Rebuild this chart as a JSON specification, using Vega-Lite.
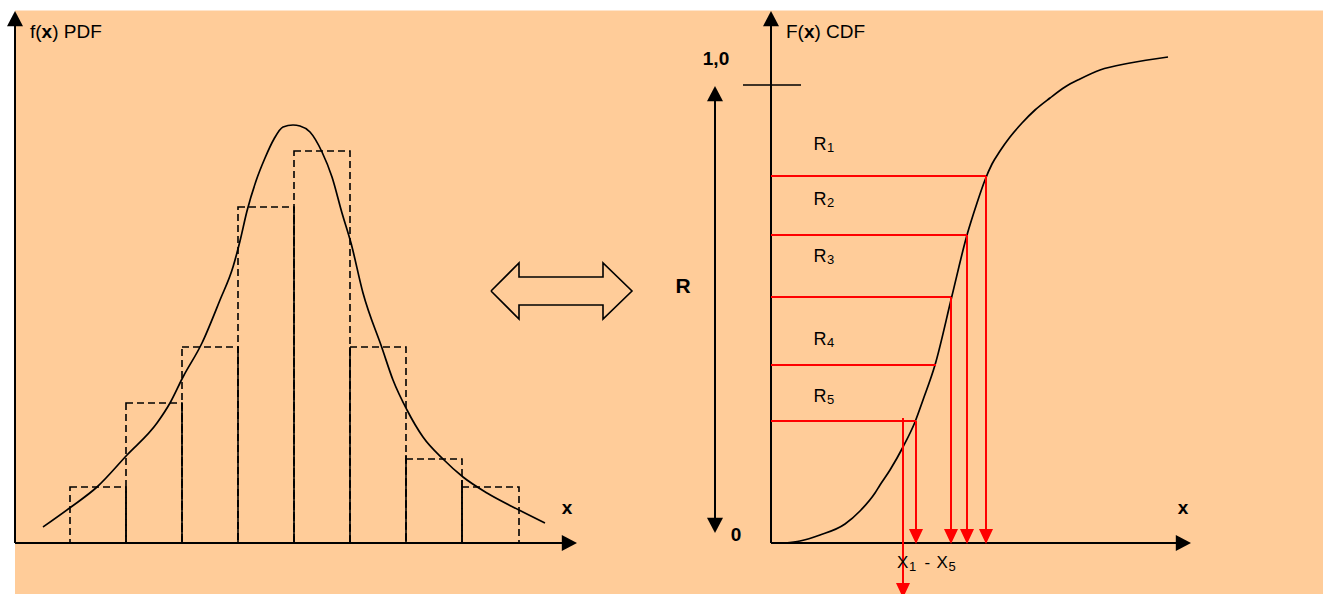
{
  "$schema": "https://vega.github.io/schema/vega-lite/v6.json",
  "width": 1323,
  "height": 594,
  "autosize": {"type": "none"},
  "padding": 0,
  "background": "white",
  "config": {"view": {"stroke": null}, "font": "Liberation Sans"},
  "datasets": {
    "bg": [{"x": 15, "x2": 1323, "y": 10.5, "y2": 594}],
    "bins": [
      {"x0": 70, "x1": 126, "top": 487, "base": 543},
      {"x0": 126, "x1": 182, "top": 403, "base": 543},
      {"x0": 182, "x1": 238, "top": 347, "base": 543},
      {"x0": 238, "x1": 294, "top": 207, "base": 543},
      {"x0": 294, "x1": 350, "top": 151, "base": 543},
      {"x0": 350, "x1": 406, "top": 347, "base": 543},
      {"x0": 406, "x1": 462, "top": 459, "base": 543},
      {"x0": 462, "x1": 519, "top": 487, "base": 543}
    ],
    "shared": [
      {"x": 126, "y": 487, "y2": 543},
      {"x": 182, "y": 403, "y2": 543},
      {"x": 238, "y": 347, "y2": 543},
      {"x": 294, "y": 207, "y2": 543},
      {"x": 350, "y": 347, "y2": 543},
      {"x": 406, "y": 455, "y2": 543},
      {"x": 462, "y": 480, "y2": 543}
    ],
    "pdf": [
      {"x": 43, "y": 527}, {"x": 71, "y": 507}, {"x": 97, "y": 487}, {"x": 127, "y": 455},
      {"x": 157, "y": 423}, {"x": 170, "y": 403}, {"x": 183, "y": 377}, {"x": 202, "y": 343},
      {"x": 220, "y": 300}, {"x": 233, "y": 267}, {"x": 240, "y": 241}, {"x": 247, "y": 211},
      {"x": 256, "y": 181}, {"x": 265, "y": 158}, {"x": 274, "y": 139}, {"x": 283, "y": 127}, {"x": 293, "y": 125},
      {"x": 300, "y": 126}, {"x": 310, "y": 132}, {"x": 322, "y": 152}, {"x": 332, "y": 177},
      {"x": 342, "y": 213}, {"x": 351, "y": 243}, {"x": 363, "y": 293}, {"x": 382, "y": 348},
      {"x": 393, "y": 380}, {"x": 407, "y": 410}, {"x": 423, "y": 437}, {"x": 443, "y": 459},
      {"x": 463, "y": 477}, {"x": 487, "y": 493}, {"x": 519, "y": 510}, {"x": 545, "y": 523}
    ],
    "cdf": [
      {"x": 785, "y": 543}, {"x": 800, "y": 541}, {"x": 820, "y": 535}, {"x": 845, "y": 524},
      {"x": 860, "y": 511}, {"x": 875, "y": 493}, {"x": 880, "y": 485}, {"x": 890, "y": 470},
      {"x": 903, "y": 447}, {"x": 915, "y": 422}, {"x": 923, "y": 400}, {"x": 935, "y": 365},
      {"x": 951.7, "y": 297}, {"x": 967, "y": 235}, {"x": 977, "y": 203}, {"x": 985, "y": 180},
      {"x": 992, "y": 164}, {"x": 1000, "y": 151}, {"x": 1010, "y": 137}, {"x": 1022, "y": 123},
      {"x": 1035, "y": 110}, {"x": 1050, "y": 98}, {"x": 1065, "y": 87}, {"x": 1080, "y": 79},
      {"x": 1100, "y": 70}, {"x": 1130, "y": 63}, {"x": 1168, "y": 57}
    ],
    "blackLines": [
      {"x": 15, "x2": 15, "y": 24, "y2": 543},
      {"x": 15, "x2": 563, "y": 543, "y2": 543},
      {"x": 771, "x2": 771, "y": 24, "y2": 543},
      {"x": 771, "x2": 1177, "y": 543, "y2": 543},
      {"x": 715, "x2": 715, "y": 99, "y2": 520}
    ],
    "tick": [{"x": 743, "x2": 801, "y": 85, "y2": 85}],
    "redLines": [
      {"x": 771, "x2": 986, "y": 176, "y2": 176},
      {"x": 771, "x2": 967, "y": 235, "y2": 235},
      {"x": 771, "x2": 951, "y": 297, "y2": 297},
      {"x": 771, "x2": 936, "y": 365, "y2": 365},
      {"x": 771, "x2": 916, "y": 421, "y2": 421},
      {"x": 986, "x2": 986, "y": 176, "y2": 531},
      {"x": 967, "x2": 967, "y": 235, "y2": 531},
      {"x": 951, "x2": 951, "y": 297, "y2": 531},
      {"x": 916, "x2": 916, "y": 421, "y2": 531},
      {"x": 903, "x2": 903, "y": 418, "y2": 585}
    ],
    "blackHeads": [
      {"x": 15, "y": 11, "dir": "up"},
      {"x": 771, "y": 11, "dir": "up"},
      {"x": 577, "y": 543, "dir": "right"},
      {"x": 1191, "y": 543, "dir": "right"},
      {"x": 715, "y": 86, "dir": "up"},
      {"x": 715, "y": 533, "dir": "down"}
    ],
    "redHeads": [
      {"x": 986, "y": 544}, {"x": 967, "y": 544}, {"x": 951, "y": 544},
      {"x": 916, "y": 544}, {"x": 903, "y": 598}
    ],
    "dblArrow": [
      {"i": 0, "x": 491, "y": 291}, {"i": 1, "x": 519, "y": 263}, {"i": 2, "x": 519, "y": 277},
      {"i": 3, "x": 603, "y": 277}, {"i": 4, "x": 603, "y": 263}, {"i": 5, "x": 632, "y": 291},
      {"i": 6, "x": 603, "y": 319}, {"i": 7, "x": 603, "y": 305}, {"i": 8, "x": 519, "y": 305},
      {"i": 9, "x": 519, "y": 319}, {"i": 10, "x": 491, "y": 291}
    ],
    "titleReg": [
      {"t": "f(", "x": 30, "y": 38}, {"t": ") PDF", "x": 52.2, "y": 38},
      {"t": "F(", "x": 786, "y": 38}, {"t": ") CDF", "x": 814.5, "y": 38}
    ],
    "titleBold": [{"t": "x", "x": 41.6, "y": 38}, {"t": "x", "x": 804, "y": 38}],
    "boldLabels": [
      {"t": "x", "x": 567, "y": 514}, {"t": "x", "x": 1183, "y": 514},
      {"t": "1,0", "x": 716, "y": 65}, {"t": "0", "x": 736, "y": 541}
    ],
    "bigR": [{"t": "R", "x": 683, "y": 293}],
    "rMain": [
      {"t": "R", "x": 813.5, "y": 150}, {"t": "R", "x": 813.5, "y": 205},
      {"t": "R", "x": 813.5, "y": 261.7}, {"t": "R", "x": 813.5, "y": 345},
      {"t": "R", "x": 813.5, "y": 401.7}
    ],
    "rSub": [
      {"t": "1", "x": 827, "y": 152}, {"t": "2", "x": 827, "y": 207},
      {"t": "3", "x": 827, "y": 263.7}, {"t": "4", "x": 827, "y": 347},
      {"t": "5", "x": 827, "y": 403.7}
    ],
    "xMain": [{"t": "X", "x": 897, "y": 568}, {"t": "-", "x": 924.5, "y": 568}, {"t": "X", "x": 936.5, "y": 568}],
    "xSub": [{"t": "1", "x": 909, "y": 571}, {"t": "5", "x": 948.5, "y": 571}]
  },
  "layer": [
    {
      "data": {"name": "bg"},
      "mark": {"type": "rect", "fill": "#FFCC99"},
      "encoding": {
        "x": {"field": "x", "type": "quantitative", "scale": {"domain": [0, 1323], "nice": false, "zero": false}, "axis": null},
        "x2": {"field": "x2"},
        "y": {"field": "y", "type": "quantitative", "scale": {"domain": [0, 594], "nice": false, "zero": false, "reverse": true}, "axis": null},
        "y2": {"field": "y2"}
      }
    },
    {
      "data": {"name": "bins"},
      "mark": {"type": "rect", "filled": false, "stroke": "black", "strokeWidth": 1.6, "strokeDash": [7, 4]},
      "encoding": {
        "x": {"field": "x0", "type": "quantitative"},
        "x2": {"field": "x1"},
        "y": {"field": "top", "type": "quantitative"},
        "y2": {"field": "base"}
      }
    },
    {
      "data": {"name": "shared"},
      "mark": {"type": "rule", "color": "black", "strokeWidth": 1.6},
      "encoding": {
        "x": {"field": "x", "type": "quantitative"},
        "y": {"field": "y", "type": "quantitative"},
        "y2": {"field": "y2"}
      }
    },
    {
      "data": {"name": "pdf"},
      "mark": {"type": "line", "color": "black", "strokeWidth": 1.7, "interpolate": "monotone"},
      "encoding": {
        "x": {"field": "x", "type": "quantitative"},
        "y": {"field": "y", "type": "quantitative"}
      }
    },
    {
      "data": {"name": "cdf"},
      "mark": {"type": "line", "color": "black", "strokeWidth": 1.7, "interpolate": "monotone"},
      "encoding": {
        "x": {"field": "x", "type": "quantitative"},
        "y": {"field": "y", "type": "quantitative"}
      }
    },
    {
      "data": {"name": "blackLines"},
      "mark": {"type": "rule", "color": "black", "strokeWidth": 2},
      "encoding": {
        "x": {"field": "x", "type": "quantitative"},
        "x2": {"field": "x2"},
        "y": {"field": "y", "type": "quantitative"},
        "y2": {"field": "y2"}
      }
    },
    {
      "data": {"name": "tick"},
      "mark": {"type": "rule", "color": "black", "strokeWidth": 1.5},
      "encoding": {
        "x": {"field": "x", "type": "quantitative"},
        "x2": {"field": "x2"},
        "y": {"field": "y", "type": "quantitative"},
        "y2": {"field": "y2"}
      }
    },
    {
      "data": {"name": "redLines"},
      "mark": {"type": "rule", "color": "#FF0000", "strokeWidth": 2},
      "encoding": {
        "x": {"field": "x", "type": "quantitative"},
        "x2": {"field": "x2"},
        "y": {"field": "y", "type": "quantitative"},
        "y2": {"field": "y2"}
      }
    },
    {
      "data": {"name": "blackHeads"},
      "mark": {"type": "point", "filled": true, "fill": "black", "opacity": 1, "size": 256, "strokeWidth": 0},
      "encoding": {
        "x": {"field": "x", "type": "quantitative"},
        "y": {"field": "y", "type": "quantitative"},
        "shape": {
          "field": "dir", "type": "nominal", "legend": null,
          "scale": {"domain": ["up", "down", "right"], "range": ["M0,0L-1,1.9L1,1.9Z", "M0,0L-1,-1.9L1,-1.9Z", "M0,0L-1.9,-1L-1.9,1Z"]}
        }
      }
    },
    {
      "data": {"name": "redHeads"},
      "mark": {"type": "point", "filled": true, "fill": "#FF0000", "opacity": 1, "size": 196, "strokeWidth": 0, "shape": "M0,0L-1,-2.15L1,-2.15Z"},
      "encoding": {
        "x": {"field": "x", "type": "quantitative"},
        "y": {"field": "y", "type": "quantitative"}
      }
    },
    {
      "data": {"name": "dblArrow"},
      "mark": {"type": "line", "color": "black", "strokeWidth": 1.6, "strokeJoin": "miter"},
      "encoding": {
        "x": {"field": "x", "type": "quantitative"},
        "y": {"field": "y", "type": "quantitative"},
        "order": {"field": "i", "type": "quantitative"}
      }
    },
    {
      "data": {"name": "titleReg"},
      "mark": {"type": "text", "align": "left", "baseline": "alphabetic", "fontSize": 19, "color": "black"},
      "encoding": {
        "x": {"field": "x", "type": "quantitative"},
        "y": {"field": "y", "type": "quantitative"},
        "text": {"field": "t"}
      }
    },
    {
      "data": {"name": "titleBold"},
      "mark": {"type": "text", "align": "left", "baseline": "alphabetic", "fontSize": 19, "fontWeight": "bold", "color": "black"},
      "encoding": {
        "x": {"field": "x", "type": "quantitative"},
        "y": {"field": "y", "type": "quantitative"},
        "text": {"field": "t"}
      }
    },
    {
      "data": {"name": "boldLabels"},
      "mark": {"type": "text", "align": "center", "baseline": "alphabetic", "fontSize": 19, "fontWeight": "bold", "color": "black"},
      "encoding": {
        "x": {"field": "x", "type": "quantitative"},
        "y": {"field": "y", "type": "quantitative"},
        "text": {"field": "t"}
      }
    },
    {
      "data": {"name": "bigR"},
      "mark": {"type": "text", "align": "center", "baseline": "alphabetic", "fontSize": 21, "fontWeight": "bold", "color": "black"},
      "encoding": {
        "x": {"field": "x", "type": "quantitative"},
        "y": {"field": "y", "type": "quantitative"},
        "text": {"field": "t"}
      }
    },
    {
      "data": {"name": "rMain"},
      "mark": {"type": "text", "align": "left", "baseline": "alphabetic", "fontSize": 18, "color": "black"},
      "encoding": {
        "x": {"field": "x", "type": "quantitative"},
        "y": {"field": "y", "type": "quantitative"},
        "text": {"field": "t"}
      }
    },
    {
      "data": {"name": "rSub"},
      "mark": {"type": "text", "align": "left", "baseline": "alphabetic", "fontSize": 13, "color": "black"},
      "encoding": {
        "x": {"field": "x", "type": "quantitative"},
        "y": {"field": "y", "type": "quantitative"},
        "text": {"field": "t"}
      }
    },
    {
      "data": {"name": "xMain"},
      "mark": {"type": "text", "align": "left", "baseline": "alphabetic", "fontSize": 17, "color": "black"},
      "encoding": {
        "x": {"field": "x", "type": "quantitative"},
        "y": {"field": "y", "type": "quantitative"},
        "text": {"field": "t"}
      }
    },
    {
      "data": {"name": "xSub"},
      "mark": {"type": "text", "align": "left", "baseline": "alphabetic", "fontSize": 13, "color": "black"},
      "encoding": {
        "x": {"field": "x", "type": "quantitative"},
        "y": {"field": "y", "type": "quantitative"},
        "text": {"field": "t"}
      }
    }
  ]
}
